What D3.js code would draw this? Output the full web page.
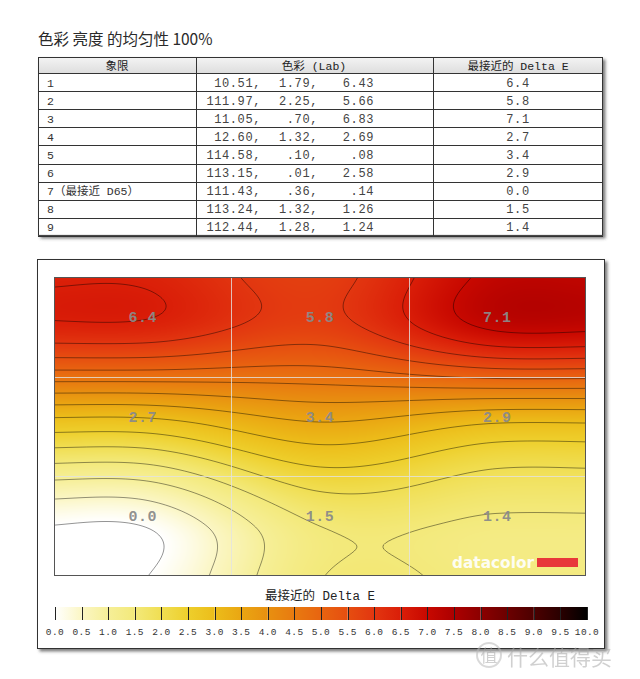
<!DOCTYPE html>
<html><head><meta charset="utf-8">
<script src="https://cdn.jsdelivr.net/npm/d3@7"></script>
<style>
html,body{margin:0;padding:0;background:#fff;}
svg{display:block;}
</style></head>
<body>
<svg id="chart" width="640" height="679"></svg>
<script>
// ---------- data ----------
const titleText = "色彩 亮度 的均匀性 100%";
const tableHeaders = ["象限", "色彩 (Lab)", "最接近的 Delta E"];
const quadrants = ["1","2","3","4","5","6","7（最接近 D65）","8","9"];
const labL = ["10.51,","111.97,","11.05,","12.60,","114.58,","113.15,","111.43,","113.24,","112.44,"];
const labA = ["1.79,","2.25,",".70,","1.32,",".10,",".01,",".36,","1.32,","1.28,"];
const labB = ["6.43","5.66","6.83","2.69",".08","2.58",".14","1.26","1.24"];
const deltaE = [6.4, 5.8, 7.1, 2.7, 3.4, 2.9, 0.0, 1.5, 1.4];
const colorbarTitle = "最接近的 Delta E";
const colorStops = [0,0.5,1,1.5,2,2.5,3,3.5,4,4.5,5,5.5,6,6.5,7,7.5,8,8.5,9,9.5,10];
const colorValues = ["#ffffff","#fbf6c4","#f6ef98","#f3e97a","#f0de52","#eecf2c","#ecbd1a","#eaa612","#e89010","#e87a10","#e86410","#e64e10","#e23610","#da1e08","#c80800","#ac0000","#8c0000","#6c0000","#4c0000","#2a0000","#000000"];
const tickLabels = ["0.0","0.5","1.0","1.5","2.0","2.5","3.0","3.5","4.0","4.5","5.0","5.5","6.0","6.5","7.0","7.5","8.0","8.5","9.0","9.5","10.0"];

const svg = d3.select("#chart");
const defs = svg.append("defs");
const sh = defs.append("filter").attr("id","shadow").attr("x","-5%").attr("y","-5%").attr("width","112%").attr("height","115%");
sh.append("feDropShadow").attr("dx",2.5).attr("dy",2.5).attr("stdDeviation",1.5).attr("flood-color","#444").attr("flood-opacity",0.7);

const cjk = "'Noto Sans CJK SC', 'Noto Sans', sans-serif";
const mono = "'Liberation Mono', 'DejaVu Sans Mono', 'Noto Sans CJK SC', monospace";

// ---------- title ----------
svg.append("text").attr("x",38).attr("y",45).attr("font-family",cjk).attr("font-size",15.5)
  .attr("fill","#2a2a2a").text(titleText);

// ---------- table ----------
const tX = 38, tY = 57, tW = 565, headH = 16, rowH = 18.1;
const colEdges = [38, 196, 433, 603];
const tH = headH + rowH*quadrants.length;
const tg = svg.append("g");
tg.append("rect").attr("x",tX).attr("y",tY).attr("width",tW).attr("height",tH)
  .attr("fill","#fff").attr("filter","url(#shadow)");
const hg = defs.append("linearGradient").attr("id","hdr").attr("x1",0).attr("x2",0).attr("y1",0).attr("y2",1);
hg.append("stop").attr("offset","0%").attr("stop-color","#f4f4f4");
hg.append("stop").attr("offset","100%").attr("stop-color","#dedede");
tg.append("rect").attr("x",tX).attr("y",tY).attr("width",tW).attr("height",headH).attr("fill","url(#hdr)");
const rowY = d3.scaleLinear().domain([0,1]).range([tY+headH, tY+headH+rowH]);
d3.range(quadrants.length+1).forEach(i=>{
  tg.append("line").attr("x1",tX).attr("x2",tX+tW).attr("y1",Math.round(rowY(i))+0.5).attr("y2",Math.round(rowY(i))+0.5)
    .attr("stroke","#333").attr("stroke-width",1);
});
tg.append("rect").attr("x",tX+0.5).attr("y",tY+0.5).attr("width",tW-1).attr("height",tH-1)
  .attr("fill","none").attr("stroke","#333");
colEdges.slice(1,3).forEach(x=>{
  tg.append("line").attr("x1",x+0.5).attr("x2",x+0.5).attr("y1",tY).attr("y2",tY+tH).attr("stroke","#333");
});
const hdrX = [117, 314, 518];
tableHeaders.forEach((h,i)=>{
  tg.append("text").attr("x",hdrX[i]).attr("y",tY+12.5).attr("text-anchor","middle")
    .attr("font-family",mono).attr("font-size",11.5).attr("fill","#222").text(h);
});
quadrants.forEach((q,i)=>{
  const y = rowY(i)+13.5;
  tg.append("text").attr("x",47).attr("y",y).attr("font-family",mono).attr("font-size",11.5).attr("fill","#333").text(q);
  tg.append("text").attr("x",261).attr("y",y).attr("text-anchor","end").attr("font-family",mono).attr("font-size",12).attr("letter-spacing",0.6).attr("fill","#444").text(labL[i]);
  tg.append("text").attr("x",318).attr("y",y).attr("text-anchor","end").attr("font-family",mono).attr("font-size",12).attr("letter-spacing",0.6).attr("fill","#444").text(labA[i]);
  tg.append("text").attr("x",374).attr("y",y).attr("text-anchor","end").attr("font-family",mono).attr("font-size",12).attr("letter-spacing",0.6).attr("fill","#444").text(labB[i]);
  tg.append("text").attr("x",518).attr("y",y).attr("text-anchor","middle").attr("font-family",mono).attr("font-size",12).attr("letter-spacing",0.6).attr("fill","#444").text(deltaE[i].toFixed(1));
});

// ---------- panel ----------
svg.append("rect").attr("x",37.5).attr("y",259.5).attr("width",567).attr("height",389)
  .attr("fill","#fff").attr("stroke","#333").attr("filter","url(#shadow)");

const px0 = 54, py0 = 277, pw = 532, ph = 299;
const xs = d3.scaleLinear().domain([0,3]).range([px0, px0+pw]);
const ys = d3.scaleLinear().domain([0,3]).range([py0, py0+ph]);
const color = d3.scaleLinear().domain(colorStops).range(colorValues).clamp(true);

const grid = [0,1,2].map(r=>[0,1,2].map(c=>deltaE[r*3+c]));

function herm(p0,m0,p1,m1,s){
  const s2=s*s, s3=s2*s;
  return (2*s3-3*s2+1)*p0 + (s3-2*s2+s)*m0 + (-2*s3+3*s2)*p1 + (s3-s2)*m1;
}
const ext = 0.62; // length of the virtual end segment (in cell units)
function interp1(a,b,c,t){
  const m0=(b-a)/2, m1=(c-a)/2, m2=(c-b)/2;
  if (t < -1) return herm(a,0,a,m0*ext,(t+1+ext)/ext);
  if (t < 0) return herm(a,m0,b,m1,t+1);
  if (t <= 1) return herm(b,m1,c,m2,t);
  return herm(c,m2*ext,c,0,(t-1)/ext);
}
function field(X,Y){
  const tx = xs.invert(X) - 1.5, ty = ys.invert(Y) - 1.5;
  const rv = grid.map(row=>interp1(row[0],row[1],row[2],tx));
  return interp1(rv[0],rv[1],rv[2],ty);
}

// heatmap image via canvas
const cv = document.createElement("canvas");
cv.width = pw; cv.height = ph;
const ctx = cv.getContext("2d");
const img = ctx.createImageData(pw, ph);
for (let j=0;j<ph;j++){
  for (let i=0;i<pw;i++){
    const c = d3.rgb(color(field(px0+i+0.5, py0+j+0.5)));
    const k = (j*pw+i)*4;
    img.data[k]=c.r; img.data[k+1]=c.g; img.data[k+2]=c.b; img.data[k+3]=255;
  }
}
ctx.putImageData(img,0,0);
const clip = defs.append("clipPath").attr("id","plotclip");
clip.append("rect").attr("x",px0).attr("y",py0).attr("width",pw).attr("height",ph);
const pg = svg.append("g").attr("clip-path","url(#plotclip)");
pg.append("image").attr("x",px0).attr("y",py0).attr("width",pw).attr("height",ph)
  .attr("preserveAspectRatio","none").attr("href", cv.toDataURL());

// contours
const res = 2, pad = 3;
const gn = Math.ceil(pw/res) + 2*pad + 1, gm = Math.ceil(ph/res) + 2*pad + 1;
const vals = new Array(gn*gm);
for (let j=0;j<gm;j++) for (let i=0;i<gn;i++){
  vals[j*gn+i] = field(px0 + (i-pad)*res, py0 + (j-pad)*res);
}
const thresholds = d3.range(0, 10.01, 0.5);
const contours = d3.contours().size([gn,gm]).thresholds(thresholds)(vals);
const proj = d3.geoIdentity().scale(res).translate([px0 - pad*res - res/2, py0 - pad*res - res/2]);
const path = d3.geoPath(proj);
pg.selectAll("path.ct").data(contours).join("path").attr("class","ct")
  .attr("d",path).attr("fill","none").attr("stroke","#000").attr("stroke-opacity",0.42).attr("stroke-width",1);

// grid lines
[1,2].forEach(k=>{
  pg.append("line").attr("x1",Math.round(xs(k))+0.5).attr("x2",Math.round(xs(k))+0.5).attr("y1",py0).attr("y2",py0+ph)
    .attr("stroke","#e2e2e2").attr("stroke-opacity",0.8);
  pg.append("line").attr("x1",px0).attr("x2",px0+pw).attr("y1",Math.round(ys(k))+0.5).attr("y2",Math.round(ys(k))+0.5)
    .attr("stroke","#e2e2e2").attr("stroke-opacity",0.8);
});

// value labels
grid.forEach((row,r)=>row.forEach((v,c)=>{
  pg.append("text").attr("x",xs(c+0.5)).attr("y",ys(r+0.5)-5).attr("text-anchor","middle")
    .attr("font-family",mono).attr("font-weight","bold").attr("font-size",15).attr("letter-spacing",0.5)
    .attr("fill","#8a8a8a").attr("fill-opacity",0.95).text(v.toFixed(1));
}));

// datacolor logo
pg.append("text").attr("x",452).attr("y",568).attr("font-family","'DejaVu Sans', sans-serif").attr("font-weight","bold")
  .attr("font-size",15).attr("textLength",82).attr("lengthAdjust","spacingAndGlyphs").attr("fill","#fff").attr("fill-opacity",0.92).text("datacolor");
pg.append("rect").attr("x",537).attr("y",558).attr("width",41).attr("height",9).attr("fill","#e8383a");

svg.append("rect").attr("x",px0+0.5).attr("y",py0+0.5).attr("width",pw-1).attr("height",ph-1)
  .attr("fill","none").attr("stroke","#555").attr("stroke-width",1);

// ---------- colorbar ----------
const cb = d3.scaleLinear().domain([0,10]).range([55,587]);
svg.append("text").attr("x",320).attr("y",600).attr("text-anchor","middle").attr("font-family",mono)
  .attr("font-size",12.5).attr("fill","#222").text(colorbarTitle);
const cbY = 607, cbH = 13;
colorStops.slice(0,-1).forEach((v,i)=>{
  const gid = "cbg"+i;
  const lg = defs.append("linearGradient").attr("id",gid);
  lg.append("stop").attr("offset","0%").attr("stop-color",color(v));
  lg.append("stop").attr("offset","100%").attr("stop-color",color(colorStops[i+1]));
  svg.append("rect").attr("x",cb(v)).attr("y",cbY).attr("width",cb(colorStops[i+1])-cb(v)).attr("height",cbH)
    .attr("fill","url(#"+gid+")");
});
colorStops.forEach((v,i)=>{
  svg.append("line").attr("x1",Math.round(cb(v))+0.5).attr("x2",Math.round(cb(v))+0.5).attr("y1",cbY).attr("y2",cbY+cbH)
    .attr("stroke","#222").attr("stroke-width",1);
  svg.append("text").attr("x",cb(v)).attr("y",635).attr("text-anchor","middle").attr("font-family",mono)
    .attr("font-size",9.5).attr("letter-spacing",0.4).attr("fill","#333").text(tickLabels[i]);
});

// ---------- watermark ----------
const wm = svg.append("g").attr("opacity",0.55);
wm.append("circle").attr("cx",489).attr("cy",655).attr("r",12).attr("fill","none").attr("stroke","#bbb").attr("stroke-width",2);
wm.append("text").attr("x",489).attr("y",662).attr("text-anchor","middle").attr("font-family",cjk).attr("font-size",17).attr("fill","#aaa").text("值");
wm.append("text").attr("x",507).attr("y",665).attr("font-family",cjk).attr("font-size",21).attr("fill","#aaa").text("什么值得买");
</script>
</body></html>
